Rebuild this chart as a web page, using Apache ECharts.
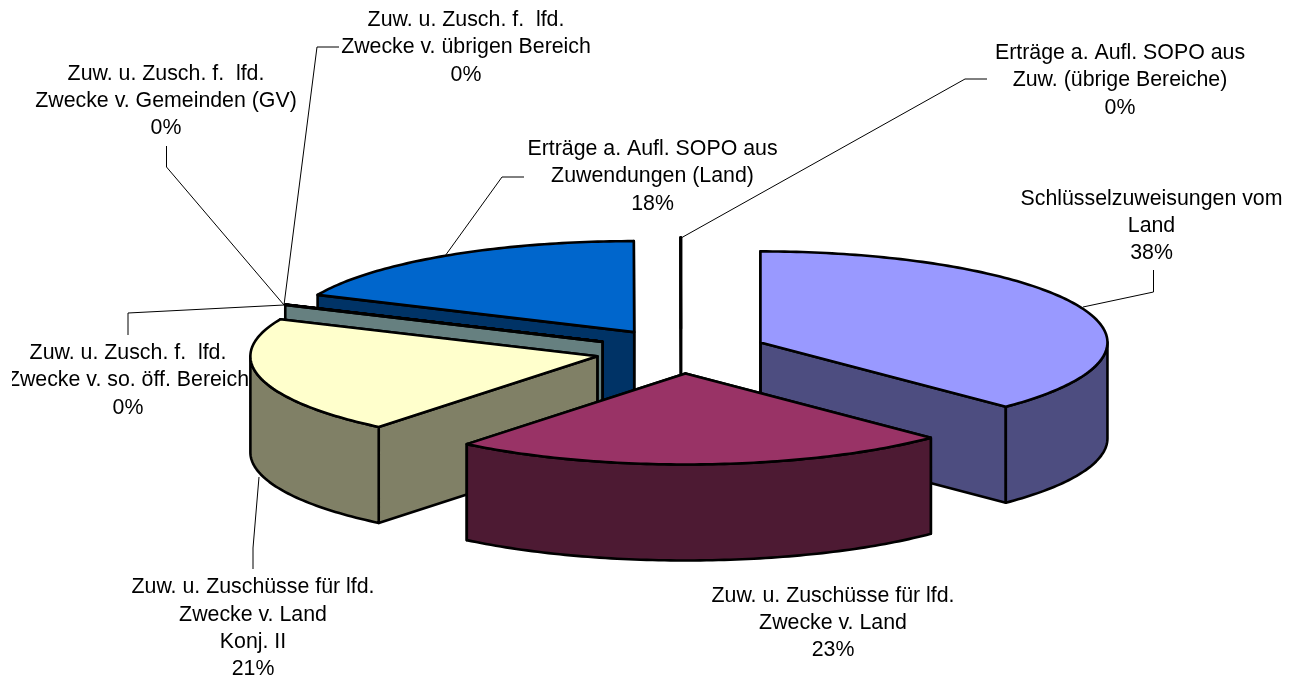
<!DOCTYPE html>
<html>
<head>
<meta charset="utf-8">
<style>html,body{margin:0;padding:0;background:#fff}#c{width:1295px;height:677px}</style>
<script src="https://cdn.jsdelivr.net/npm/echarts@6/dist/echarts.min.js"></script>
</head>
<body>
<div id="c"></div>
<script>
// ---- data (clockwise from 12 o'clock) ----
const categories = [
  'Schlüsselzuweisungen vom\nLand',
  'Zuw. u. Zuschüsse für lfd.\nZwecke v. Land',
  'Zuw. u. Zuschüsse für lfd.\nZwecke v. Land\nKonj. II',
  'Zuw. u. Zusch. f.  lfd.\nZwecke v. so. öff. Bereich',
  'Zuw. u. Zusch. f.  lfd.\nZwecke v. Gemeinden (GV)',
  'Zuw. u. Zusch. f.  lfd.\nZwecke v. übrigen Bereich',
  'Erträge a. Aufl. SOPO aus\nZuwendungen (Land)',
  'Erträge a. Aufl. SOPO aus\nZuw. (übrige Bereiche)'
];
const sliceValues = [37.5, 23.35, 20.8, 0.02, 0.02, 0.02, 18.27, 0.02];
const percentLabels = ['38%', '23%', '21%', '0%', '0%', '0%', '18%', '0%'];

// ---- styling ----
const topColors = ['#9999FF', '#993366', '#FFFFCC', '#CCFFFF', '#660066', '#FF8080', '#0066CC', '#CCCCFF'];
const sideColors = ['#4D4D80', '#4D1A33', '#808066', '#668080', '#330033', '#804040', '#003366', '#666680'];

// ---- layout ----
const PIE = { cx: 681, cy: 351, rx: 347, ry: 91, depth: 96, ex: 86, ey: 22.5 };
const labelAnchors = [[1151.5, 226], [833, 623], [253, 628.5], [128, 380.5], [166, 101], [466, 47.5], [652.5, 176.5], [1120, 80.5]];
const leaders = [
  [[1083, 307], [1153.5, 292], [1153.5, 270]],
  null,
  [[259, 477], [253, 548], [253, 569]],
  [[284, 305], [128, 313], [128, 335]],
  [[284, 305], [166.5, 167], [166.5, 146]],
  [[284, 305], [317, 47], [339, 47]],
  [[445, 256], [502, 177], [524, 177]],
  [[681, 238], [965, 79], [987, 79]]
];
const FONT = '21.33px "Liberation Sans", Arial, sans-serif';

const total = sliceValues.reduce((a, b) => a + b, 0);
let acc = 0;
const spans = sliceValues.map(v => { const a0 = acc; acc += v; return [a0 / total * 360, acc / total * 360]; });
const midOf = i => (spans[i][0] + spans[i][1]) / 2;
const rad = d => d * Math.PI / 180;
// painter order: back of the pie first
const drawOrder = sliceValues.map((_, i) => i).sort((a, b) => Math.cos(rad(midOf(b))) - Math.cos(rad(midOf(a))));

function ringPoint(c, deg, dz) {
  return [c[0] + PIE.rx * Math.sin(rad(deg)), c[1] - PIE.ry * Math.cos(rad(deg)) + (dz || 0)];
}
function arc(c, a0, a1, dz) {
  const n = Math.max(1, Math.ceil(Math.abs(a1 - a0)));
  const out = [];
  for (let k = 0; k <= n; k++) out.push(ringPoint(c, a0 + (a1 - a0) * k / n, dz));
  return out;
}
const edge = { stroke: '#000', lineWidth: 2.6, lineJoin: 'round' };

function renderItem(params, api) {
  const rank = params.dataIndex;
  const i = api.value(0);
  const [a0, a1] = spans[i];
  const m = rad(midOf(i));
  const c = [PIE.cx + PIE.ex * Math.sin(m), PIE.cy - PIE.ey * Math.cos(m)];
  const base = rank * 10 + 1;
  const side = Object.assign({ fill: sideColors[i] }, edge);
  const kids = [];
  const radial = deg => {
    const p = ringPoint(c, deg, 0);
    return { type: 'polygon', z2: base, shape: { points: [c, p, [p[0], p[1] + PIE.depth], [c[0], c[1] + PIE.depth]] }, style: side, silent: true };
  };
  kids.push(radial(a1), radial(a0));
  const w0 = Math.max(a0, 90), w1 = Math.min(a1, 270);
  if (w1 > w0) {
    const pts = arc(c, w0, w1, 0).concat(arc(c, w1, w0, PIE.depth));
    kids.push({ type: 'polygon', z2: base + 1, shape: { points: pts }, style: side, silent: true });
  }
  kids.push({
    type: 'polygon', z2: base + 2,
    shape: { points: [c].concat(arc(c, a0, a1, 0)) },
    style: Object.assign({ fill: topColors[i] }, edge), silent: true
  });
  if (leaders[i]) {
    kids.push({
      type: 'polyline', z2: 900, shape: { points: leaders[i] },
      style: { stroke: '#000', lineWidth: 1, fill: null }, silent: true
    });
  }
  const text = {
    type: 'text', z2: 1000, x: labelAnchors[i][0], y: labelAnchors[i][1], silent: true,
    style: {
      text: categories[i] + '\n' + percentLabels[i],
      font: FONT, fill: '#000', align: 'center', verticalAlign: 'middle', lineHeight: 27.3
    }
  };
  // the label of this slice runs out of its box on both sides
  if (i === 3) text.clipPath = { type: 'rect', shape: { x: 12 - labelAnchors[i][0], y: -60, width: 237, height: 120 } };
  kids.push(text);
  return { type: 'group', children: kids };
}

const chart = echarts.init(document.getElementById('c'));
chart.setOption({
  animation: false,
  backgroundColor: '#fff',
  tooltip: { show: false },
  series: [{
    type: 'custom',
    coordinateSystem: 'none',
    renderItem,
    clip: false,
    data: drawOrder.map(i => ({ name: categories[i], value: [i, sliceValues[i]] }))
  }]
});
</script>
</body>
</html>
